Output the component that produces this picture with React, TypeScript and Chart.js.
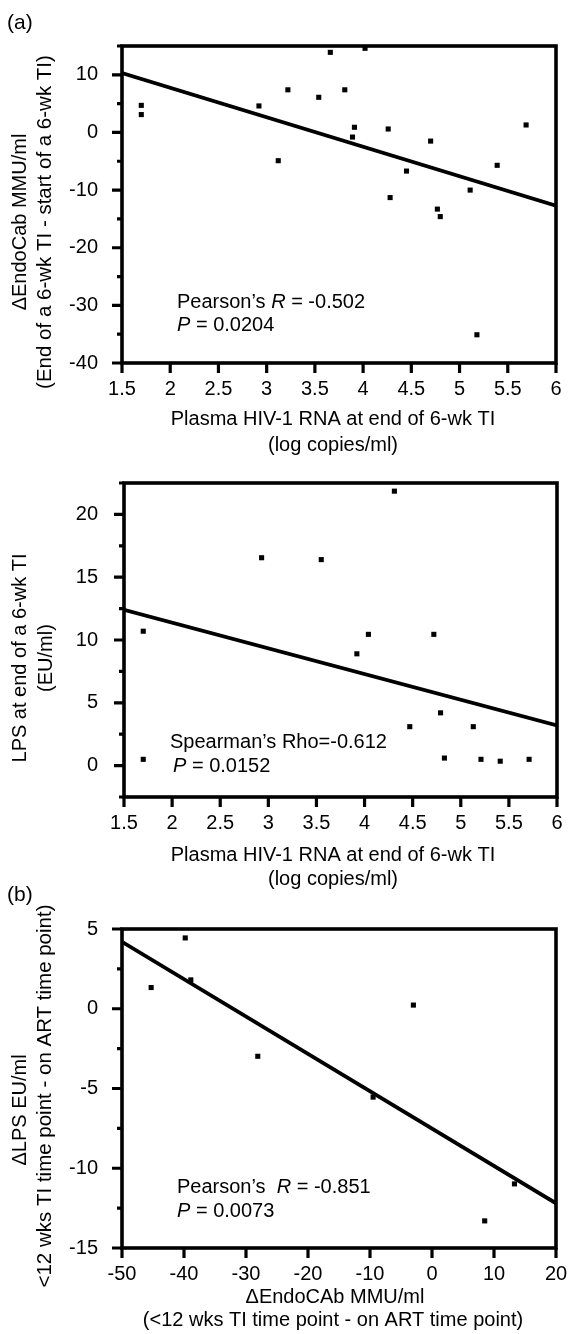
import React, { useEffect, useRef } from "react";
import { Chart, registerables } from "chart.js";

Chart.register(...registerables);

const FONT_FAMILY = '"Liberation Sans", Arial, Helvetica, sans-serif';
const PAGE_W = 568;
const PAGE_H = 1334;

// ---------- Panel (a), top: change in EndoCab vs plasma HIV-1 RNA ----------
const rnaTop = [1.7, 1.7, 2.92, 3.12, 3.22, 3.54, 3.66, 3.81, 3.91, 3.89, 4.02, 4.26, 4.28, 4.45, 4.7, 4.77, 4.8, 5.11, 5.18, 5.39, 5.69];
const endoCabChange = [4.7, 3.1, 4.6, -4.9, 7.4, 6.1, 13.9, 7.4, 0.9, -0.8, 14.6, 0.6, -11.3, -6.7, -1.5, -13.3, -14.6, -10.0, -35.1, -5.7, 1.3];
const fitTopX = [1.5, 6];
const fitTopY = [10.3, -12.7];
const rnaTicks = [1.5, 2, 2.5, 3, 3.5, 4, 4.5, 5, 5.5, 6];
const rnaTickLabels = ["1.5", "2", "2.5", "3", "3.5", "4", "4.5", "5", "5.5", "6"];
const endoTicks = [-40, -30, -20, -10, 0, 10];
const endoTickLabels = ["-40", "-30", "-20", "-10", "0", "10"];
const endoMinorTicks = [-35, -25, -15, -5, 5, 15];

// ---------- Panel (a), middle: LPS vs plasma HIV-1 RNA ----------
const rnaMid = [1.7, 1.7, 2.93, 3.55, 3.92, 4.04, 4.31, 4.47, 4.72, 4.79, 4.83, 5.13, 5.21, 5.41, 5.71];
const lpsEnd = [10.7, 0.5, 16.55, 16.4, 8.9, 10.45, 21.85, 3.1, 10.45, 4.2, 0.6, 3.1, 0.5, 0.35, 0.5];
const fitMidX = [1.5, 6];
const fitMidY = [12.4, 3.2];
const lpsTicks = [0, 5, 10, 15, 20];
const lpsTickLabels = ["0", "5", "10", "15", "20"];
const lpsMinorTicks = [-2.5, 2.5, 7.5, 12.5, 17.5, 22.5];

// ---------- Panel (b): change in LPS vs change in EndoCAb ----------
const endoCabDeltaB = [-45.3, -39.8, -38.9, -28.1, -9.5, -3.0, 8.5, 13.3];
const lpsDeltaB = [1.33, 4.44, 1.81, -2.98, -5.54, 0.23, -13.3, -10.98];
const fitBX = [-50, 20];
const fitBY = [4.2, -12.2];
const endoBTicks = [-50, -40, -30, -20, -10, 0, 10, 20];
const endoBTickLabels = ["-50", "-40", "-30", "-20", "-10", "0", "10", "20"];
const lpsBTicks = [-15, -10, -5, 0, 5];
const lpsBTickLabels = ["-15", "-10", "-5", "0", "5"];
const lpsBMinorTicks = [-12.5, -7.5, -2.5, 2.5];

// ---------- Text ----------
const statsTop = [
  [{ t: "Pearson\u2019s " }, { t: "R", italic: true }, { t: " = -0.502" }],
  [{ t: "P", italic: true }, { t: " = 0.0204" }],
];
const statsMid = [
  [{ t: "Spearman\u2019s Rho=-0.612" }],
  [{ t: "P", italic: true }, { t: " = 0.0152" }],
];
const statsB = [
  [{ t: "Pearson\u2019s  " }, { t: "R", italic: true }, { t: " = -0.851" }],
  [{ t: "P", italic: true }, { t: " = 0.0073" }],
];

type Run = { t: string; italic?: boolean };
type TextItem = { runs: Run[]; x: number; y: number; align: "left" | "center"; rotate?: boolean; size: number };

function drawRuns(ctx: CanvasRenderingContext2D, item: TextItem) {
  ctx.save();
  ctx.translate(item.x, item.y);
  if (item.rotate) ctx.rotate(-Math.PI / 2);
  ctx.textBaseline = "middle";
  ctx.textAlign = "left";
  ctx.fillStyle = "#000";
  const fontFor = (r: Run) => `${r.italic ? "italic " : ""}${item.size}px ${FONT_FAMILY}`;
  let total = 0;
  const widths = item.runs.map((r) => {
    ctx.font = fontFor(r);
    const w = ctx.measureText(r.t).width;
    total += w;
    return w;
  });
  let x = item.align === "center" ? -total / 2 : 0;
  item.runs.forEach((r, i) => {
    ctx.font = fontFor(r);
    ctx.fillText(r.t, x, 0);
    x += widths[i];
  });
  ctx.restore();
}

type Spec = {
  frame: { left: number; right: number; top: number; bottom: number };
  xMin: number; xMax: number; xTicks: number[]; xLabels: string[];
  yMin: number; yMax: number; yTicks: number[]; yLabels: string[]; yMinor: number[];
  px: number[]; py: number[]; fx: number[]; fy: number[];
  texts: TextItem[];
};

const lines = (runs: Run[][], x: number, y0: number, dy: number, size: number): TextItem[] =>
  runs.map((r, i) => ({ runs: r, x, y: y0 + i * dy, align: "left", size }));

const specs: Spec[] = [
  {
    frame: { left: 122, right: 556, top: 46, bottom: 363 },
    xMin: 1.5, xMax: 6, xTicks: rnaTicks, xLabels: rnaTickLabels,
    yMin: -40, yMax: 15, yTicks: endoTicks, yLabels: endoTickLabels, yMinor: endoMinorTicks,
    px: rnaTop, py: endoCabChange, fx: fitTopX, fy: fitTopY,
    texts: [
      { runs: [{ t: "(a)" }], x: 7, y: 23, align: "left", size: 21 },
      { runs: [{ t: "\u0394EndoCab MMU/ml" }], x: 20, y: 222, align: "center", rotate: true, size: 20 },
      { runs: [{ t: "(End of a 6-wk TI - start of a 6-wk TI)" }], x: 45, y: 222, align: "center", rotate: true, size: 20.5 },
      { runs: [{ t: "Plasma HIV-1 RNA at end of 6-wk TI" }], x: 333, y: 419, align: "center", size: 20 },
      { runs: [{ t: "(log copies/ml)" }], x: 333, y: 445, align: "center", size: 20 },
      ...lines(statsTop, 177, 302, 23, 20),
    ],
  },
  {
    frame: { left: 124, right: 557, top: 483, bottom: 797 },
    xMin: 1.5, xMax: 6, xTicks: rnaTicks, xLabels: rnaTickLabels,
    yMin: -2.5, yMax: 22.5, yTicks: lpsTicks, yLabels: lpsTickLabels, yMinor: lpsMinorTicks,
    px: rnaMid, py: lpsEnd, fx: fitMidX, fy: fitMidY,
    texts: [
      { runs: [{ t: "LPS at end of a 6-wk TI" }], x: 20, y: 658, align: "center", rotate: true, size: 20 },
      { runs: [{ t: "(EU/ml)" }], x: 46, y: 658, align: "center", rotate: true, size: 20 },
      { runs: [{ t: "Plasma HIV-1 RNA at end of 6-wk TI" }], x: 333, y: 855, align: "center", size: 20 },
      { runs: [{ t: "(log copies/ml)" }], x: 333, y: 879, align: "center", size: 20 },
      { runs: statsMid[0], x: 170, y: 742, align: "left", size: 20 },
      { runs: statsMid[1], x: 173, y: 766, align: "left", size: 20 },
    ],
  },
  {
    frame: { left: 122, right: 556, top: 929, bottom: 1248 },
    xMin: -50, xMax: 20, xTicks: endoBTicks, xLabels: endoBTickLabels,
    yMin: -15, yMax: 5, yTicks: lpsBTicks, yLabels: lpsBTickLabels, yMinor: lpsBMinorTicks,
    px: endoCabDeltaB, py: lpsDeltaB, fx: fitBX, fy: fitBY,
    texts: [
      { runs: [{ t: "(b)" }], x: 7, y: 895, align: "left", size: 21 },
      { runs: [{ t: "\u0394LPS EU/ml" }], x: 20, y: 1110, align: "center", rotate: true, size: 20 },
      { runs: [{ t: "<12 wks TI time point - on ART time point)" }], x: 45, y: 1096, align: "center", rotate: true, size: 20.5 },
      { runs: [{ t: "\u0394EndoCAb MMU/ml" }], x: 335, y: 1297, align: "center", size: 20 },
      { runs: [{ t: "(<12 wks TI time point - on ART time point)" }], x: 333, y: 1320, align: "center", size: 20 },
      ...lines(statsB, 177, 1187, 24, 20),
    ],
  },
];

const MAJOR_LEN = 10;
const MINOR_LEN = 5;
const FRAME_W = 3.6;
const TICK_W = 3.2;
const TICK_FONT = 20;

function makeDeco(spec: Spec) {
  return {
    id: "deco",
    afterDraw(chart: any) {
      const { ctx, chartArea: a, scales } = chart;
      const xs = scales.x;
      const ys = scales.y;
      ctx.save();
      ctx.strokeStyle = "#000";
      ctx.lineCap = "butt";
      ctx.lineWidth = TICK_W;
      ctx.beginPath();
      spec.yTicks.forEach((v) => {
        const p = ys.getPixelForValue(v);
        ctx.moveTo(a.left - MAJOR_LEN, p);
        ctx.lineTo(a.left, p);
      });
      spec.yMinor.forEach((v) => {
        const p = ys.getPixelForValue(v);
        ctx.moveTo(a.left - MINOR_LEN, p);
        ctx.lineTo(a.left, p);
      });
      spec.xTicks.forEach((v) => {
        const p = xs.getPixelForValue(v);
        ctx.moveTo(p, a.bottom);
        ctx.lineTo(p, a.bottom + MAJOR_LEN);
      });
      ctx.stroke();
      ctx.lineWidth = FRAME_W;
      ctx.strokeRect(a.left, a.top, a.right - a.left, a.bottom - a.top);
      ctx.restore();
      spec.texts.forEach((t) => drawRuns(ctx, t));
    },
  };
}

function buildConfig(spec: Spec): any {
  const f = spec.frame;
  return {
    type: "scatter",
    data: {
      datasets: [
        {
          data: spec.fx.map((x, i) => ({ x, y: spec.fy[i] })),
          showLine: true,
          pointRadius: 0,
          borderColor: "#000",
          borderWidth: 3.8,
          fill: false,
        },
        {
          data: spec.px.map((x, i) => ({ x, y: spec.py[i] })),
          pointStyle: "rect",
          pointRadius: 3.6,
          backgroundColor: "#000",
          borderWidth: 0,
          showLine: false,
        },
      ],
    },
    options: {
      responsive: false,
      maintainAspectRatio: false,
      devicePixelRatio: 1,
      animation: false,
      events: [],
      layout: { padding: { left: 0, top: f.top, right: PAGE_W - f.right, bottom: 0 } },
      plugins: { legend: { display: false }, tooltip: { enabled: false }, title: { display: false } },
      scales: {
        x: {
          type: "linear",
          position: "bottom",
          min: spec.xMin,
          max: spec.xMax,
          afterBuildTicks: (s: any) => {
            s.ticks = spec.xTicks.map((v) => ({ value: v }));
          },
          afterFit: (s: any) => {
            s.height = PAGE_H - f.bottom;
            s.paddingLeft = 0;
            s.paddingRight = 0;
          },
          grid: { display: false, drawTicks: false },
          border: { display: false },
          ticks: {
            autoSkip: false,
            maxRotation: 0,
            minRotation: 0,
            padding: 14,
            color: "#000",
            font: { family: FONT_FAMILY, size: TICK_FONT },
            callback: (_v: any, i: number) => spec.xLabels[i],
          },
        },
        y: {
          type: "linear",
          position: "left",
          min: spec.yMin,
          max: spec.yMax,
          afterBuildTicks: (s: any) => {
            s.ticks = spec.yTicks.map((v) => ({ value: v }));
          },
          afterFit: (s: any) => {
            s.width = f.left;
            s.paddingTop = 0;
            s.paddingBottom = 0;
          },
          grid: { display: false, drawTicks: false },
          border: { display: false },
          ticks: {
            padding: f.left - 98,
            color: "#000",
            font: { family: FONT_FAMILY, size: TICK_FONT },
            callback: (_v: any, i: number) => spec.yLabels[i],
          },
        },
      },
    },
    plugins: [makeDeco(spec)],
  };
}

function Panel({ spec }: { spec: Spec }) {
  const ref = useRef<HTMLCanvasElement>(null);
  useEffect(() => {
    const chart = new Chart(ref.current as HTMLCanvasElement, buildConfig(spec));
    return () => chart.destroy();
  }, [spec]);
  return (
    <canvas
      ref={ref}
      width={PAGE_W}
      height={PAGE_H}
      style={{ position: "absolute", left: 0, top: 0, width: PAGE_W, height: PAGE_H }}
    />
  );
}

export default function App() {
  return (
    <div style={{ position: "absolute", left: 0, top: 0, width: PAGE_W, height: PAGE_H, background: "#fff" }}>
      {specs.map((s, i) => (
        <Panel key={i} spec={s} />
      ))}
    </div>
  );
}
